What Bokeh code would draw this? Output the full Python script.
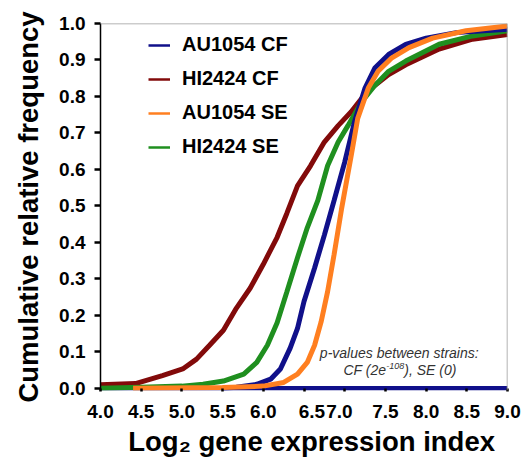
from bokeh.plotting import figure
from bokeh.models import Legend, LegendItem, Label, FixedTicker, Range1d, Span
from bokeh.embed import file_html
from bokeh.resources import INLINE

# ---- data ----
x_ticks = [4.0, 4.5, 5.0, 5.5, 6.0, 6.5, 7.0, 7.5, 8.0, 8.5, 9.0]
y_ticks = [0.0, 0.1, 0.2, 0.3, 0.4, 0.5, 0.6, 0.7, 0.8, 0.9, 1.0]
series_names = ["AU1054 CF", "HI2424 CF", "AU1054 SE", "HI2424 SE"]

au_cf_x = [5.5, 5.67, 5.92, 6.09, 6.21, 6.33, 6.42, 6.5, 6.63, 6.75, 6.87, 7.0, 7.12, 7.25, 7.37, 7.54, 7.75, 8.0, 8.37, 9.0]
au_cf_y = [0.0, 0.003, 0.011, 0.025, 0.053, 0.11, 0.164, 0.238, 0.33, 0.42, 0.515, 0.62, 0.73, 0.823, 0.878, 0.915, 0.943, 0.96, 0.975, 0.984]

hi_cf_x = [4.0, 4.43, 4.76, 5.01, 5.18, 5.34, 5.51, 5.67, 5.84, 6.0, 6.17, 6.29, 6.42, 6.58, 6.75, 6.92, 7.08, 7.21, 7.33, 7.54, 7.75, 8.16, 8.57, 9.0]
hi_cf_y = [0.01, 0.013, 0.035, 0.053, 0.08, 0.118, 0.159, 0.22, 0.275, 0.34, 0.414, 0.48, 0.555, 0.61, 0.675, 0.72, 0.758, 0.795, 0.823, 0.86, 0.887, 0.93, 0.957, 0.97]

au_se_x = [4.4, 5.5, 6.0, 6.25, 6.42, 6.54, 6.63, 6.71, 6.79, 6.87, 6.96, 7.08, 7.16, 7.29, 7.41, 7.58, 7.79, 8.08, 8.49, 9.0]
au_se_y = [0.0, 0.002, 0.006, 0.016, 0.039, 0.071, 0.118, 0.182, 0.265, 0.367, 0.49, 0.638, 0.74, 0.823, 0.869, 0.906, 0.934, 0.96, 0.98, 0.993]

hi_se_x = [4.0, 4.5, 5.0, 5.26, 5.51, 5.76, 5.92, 6.05, 6.17, 6.29, 6.42, 6.54, 6.67, 6.79, 6.92, 7.04, 7.21, 7.37, 7.54, 7.75, 8.16, 8.57, 9.0]
hi_se_y = [0.0, 0.003, 0.006, 0.011, 0.02, 0.039, 0.071, 0.118, 0.18, 0.265, 0.358, 0.44, 0.515, 0.61, 0.675, 0.72, 0.786, 0.83, 0.869, 0.897, 0.943, 0.966, 0.98]

colors = ["#10108a", "#820a0a", "#ff7f20", "#1f8f1f"]

FONT = "Liberation Sans"
NB = "\u00a0"

p = figure(width=527, height=460, x_range=Range1d(4, 9), y_range=Range1d(-0.006, 1.0),
           output_backend="svg", toolbar_location=None,
           min_border_left=100, min_border_right=20, min_border_top=23, min_border_bottom=70)
p.grid.visible = False
p.outline_line_color = None
p.background_fill_color = "white"
p.border_fill_color = "white"

# frame lines
p.add_layout(Span(location=1.0, dimension="width", line_color="#9a9a9a", line_width=1.5))
p.add_layout(Span(location=9.0, dimension="height", line_color="#9a9a9a", line_width=1.5))
p.add_layout(Span(location=0.0, dimension="width", line_color="#10108a", line_width=4.5, level="underlay"))

data = [(au_cf_x, au_cf_y), (hi_cf_x, hi_cf_y), (au_se_x, au_se_y), (hi_se_x, hi_se_y)]
draw_order = [1, 3, 0, 2]
for i in draw_order:
    xs, ys = data[i]
    p.line(xs, ys, line_color=colors[i], line_width=5)

# legend with thinner sample lines
items = []
for name, c in zip(series_names, colors):
    r = p.line([float("nan")], [float("nan")], line_color=c, line_width=2.5)
    items.append(LegendItem(label=name, renderers=[r]))
legend = Legend(items=items, location=(48, 232), border_line_color=None,
                background_fill_alpha=0, padding=0, margin=0, spacing=11,
                glyph_width=22, glyph_height=20, label_height=20, label_standoff=12,
                label_text_font=FONT, label_text_font_style="bold", label_text_font_size="20px",
                label_text_color="black")
p.add_layout(legend, "center")

# y axis
ya = p.yaxis[0]
ya.ticker = FixedTicker(ticks=y_ticks)
ya.major_label_overrides = {t: f"{t:.1f}" for t in y_ticks}
ya.axis_line_color = "black"
ya.axis_line_width = 1.5
ya.major_tick_line_color = "black"
ya.major_tick_line_width = 2.5
ya.major_tick_out = 6
ya.major_tick_in = 0
ya.minor_tick_line_color = None
ya.major_label_text_font = FONT
ya.major_label_text_font_style = "bold"
ya.major_label_text_font_size = "19px"
ya.major_label_text_color = "black"
ya.major_label_standoff = 9
ya.axis_label = "Cumulative relative frequency"
ya.axis_label_text_font = FONT
ya.axis_label_text_font_style = "bold"
ya.axis_label_text_font_size = "27.5px"
ya.axis_label_text_color = "black"
ya.axis_label_standoff = 12

# x axis (6.5 and 7.0 labels crowd together as in the original)
xa = p.xaxis[0]
xa.ticker = FixedTicker(ticks=x_ticks)
overrides = {t: f"{t:.1f}" for t in x_ticks}
overrides[6.5] = NB * 3 + "6.5"
overrides[7.0] = "7.0" + NB * 2
xa.major_label_overrides = overrides
xa.axis_line_color = None
xa.major_tick_line_color = "black"
xa.major_tick_line_width = 2.5
xa.major_tick_in = 2
xa.major_tick_out = 1
xa.minor_tick_line_color = None
xa.major_label_text_font = FONT
xa.major_label_text_font_style = "bold"
xa.major_label_text_font_size = "19px"
xa.major_label_text_color = "black"
xa.major_label_standoff = 9
xa.axis_label = NB * 2 + "Log\u2082 gene expression index"
xa.axis_label_text_font = FONT
xa.axis_label_text_font_style = "bold"
xa.axis_label_text_font_size = "27.5px"
xa.axis_label_text_color = "black"
xa.axis_label_standoff = 1

# p-value note
note_x = 7.67
common = dict(text_font=FONT, text_font_style="italic", text_color="#333333")
p.add_layout(Label(x=note_x, y=0.096, text="p-values between strains:", text_align="center",
                   text_baseline="middle", text_font_size="14px", **common))
p.add_layout(Label(x=note_x, y=0.049, x_offset=-13, text="CF (2e", text_align="right",
                   text_baseline="middle", text_font_size="14px", **common))
p.add_layout(Label(x=note_x, y=0.049, x_offset=-13, y_offset=4, text="-108", text_align="left",
                   text_baseline="middle", text_font_size="9px", **common))
p.add_layout(Label(x=note_x, y=0.049, x_offset=5, text="), SE (0)", text_align="left",
                   text_baseline="middle", text_font_size="14px", **common))

open("out.html", "w").write(file_html(p, INLINE))
